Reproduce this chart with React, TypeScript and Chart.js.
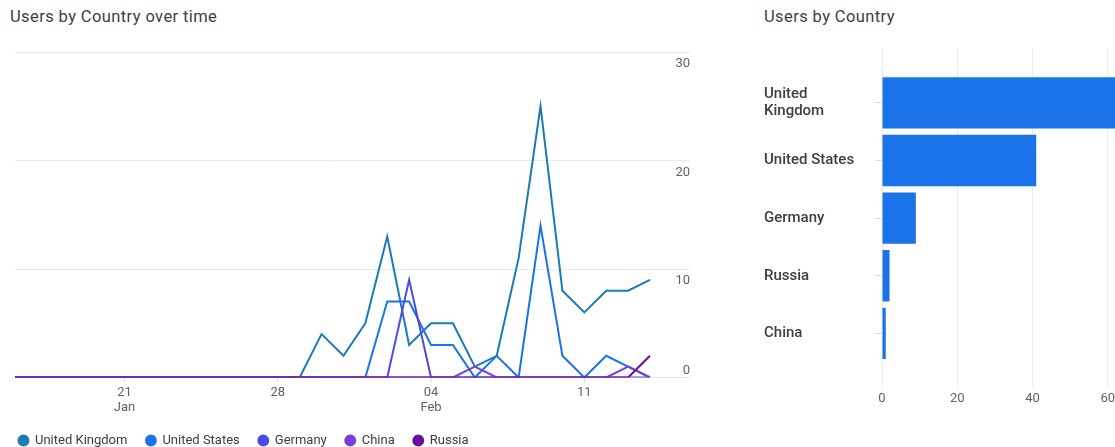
import React, { useEffect, useRef } from 'react';
import { Chart, registerables } from 'chart.js';

Chart.register(...registerables);
Chart.defaults.font.family = 'Roboto, "Noto Sans", sans-serif';

// ---- Line chart data (users per day) ----
const days = [
  '16 Jan', '17 Jan', '18 Jan', '19 Jan', '20 Jan', '21 Jan', '22 Jan', '23 Jan',
  '24 Jan', '25 Jan', '26 Jan', '27 Jan', '28 Jan', '29 Jan', '30 Jan', '31 Jan',
  '01 Feb', '02 Feb', '03 Feb', '04 Feb', '05 Feb', '06 Feb', '07 Feb', '08 Feb',
  '09 Feb', '10 Feb', '11 Feb', '12 Feb', '13 Feb', '14 Feb',
];
const tickDays = ['21 Jan', '28 Jan', '04 Feb', '11 Feb'];
const tickLabels = [['21', 'Jan'], ['28'], ['04', 'Feb'], ['11']];

const seriesNames = ['United Kingdom', 'United States', 'Germany', 'China', 'Russia'];
const ukUsers = [0, 0, 0, 0, 0, 0, 0, 0, 0, 0, 0, 0, 0, 0, 4, 2, 5, 13, 3, 5, 5, 1, 2, 11, 25, 8, 6, 8, 8, 9];
const usUsers = [0, 0, 0, 0, 0, 0, 0, 0, 0, 0, 0, 0, 0, 0, 0, 0, 0, 7, 7, 3, 3, 0, 2, 0, 14, 2, 0, 2, 1, 0];
const germanyUsers = [0, 0, 0, 0, 0, 0, 0, 0, 0, 0, 0, 0, 0, 0, 0, 0, 0, 0, 9, 0, 0, 0, 0, 0, 0, 0, 0, 0, 0, 0];
const chinaUsers = [0, 0, 0, 0, 0, 0, 0, 0, 0, 0, 0, 0, 0, 0, 0, 0, 0, 0, 0, 0, 0, 1, 0, 0, 0, 0, 0, 0, 1, 0];
const russiaUsers = [0, 0, 0, 0, 0, 0, 0, 0, 0, 0, 0, 0, 0, 0, 0, 0, 0, 0, 0, 0, 0, 0, 0, 0, 0, 0, 0, 0, 0, 2];
const seriesValues = [ukUsers, usUsers, germanyUsers, chinaUsers, russiaUsers];
const seriesColors = ['#1a7bb5', '#1a73e8', '#4b4ae8', '#7a3fd6', '#6b0d9c'];

// ---- Bar chart data (total users) ----
const barCountries = ['United Kingdom', 'United States', 'Germany', 'Russia', 'China'];
const barTickLabels = [['United', 'Kingdom'], ['United States'], ['Germany'], ['Russia'], ['China']];
const barUsers = [65, 41, 9, 2, 1];

const AXIS_GREY = '#5f6368';
const TEXT_DARK = '#3c4043';
const GRID = '#e8eaed';

const yLabelPlugin = {
  id: 'yLabelsBelow',
  afterDraw(chart: any) {
    const s = chart.scales.y;
    const ctx = chart.ctx;
    ctx.save();
    ctx.font = '13px Roboto';
    ctx.fillStyle = AXIS_GREY;
    ctx.textAlign = 'right';
    ctx.textBaseline = 'alphabetic';
    s.ticks.forEach((t: any) => {
      const py = s.getPixelForValue(t.value);
      const y = t.value === 0 ? py - 4 : py + 15;
      ctx.fillText(String(t.value), s.right, y);
    });
    ctx.restore();
  },
};

export default function App() {
  const lineRef = useRef<HTMLCanvasElement>(null);
  const barRef = useRef<HTMLCanvasElement>(null);

  useEffect(() => {
    const lineChart = new Chart(lineRef.current as HTMLCanvasElement, {
      type: 'line',
      data: {
        labels: days,
        datasets: seriesNames.map((name, i) => ({
          label: name,
          data: seriesValues[i],
          borderColor: seriesColors[i],
          backgroundColor: seriesColors[i],
          borderWidth: 2,
          pointRadius: 0,
          pointHoverRadius: 0,
          pointStyle: 'circle',
          tension: 0,
          order: seriesNames.length - i,
        })),
      },
      options: {
        animation: false,
        responsive: false,
        layout: { padding: { left: 0, right: 10, top: 12, bottom: 0 } },
        scales: {
          x: {
            type: 'category',
            grid: { drawOnChartArea: false, drawTicks: true, tickLength: 5, tickColor: '#dadce0' },
            border: { display: false },
            afterBuildTicks: (s: any) => {
              s.ticks = s.ticks.filter((t: any) => tickDays.includes(days[t.value]));
            },
            afterFit: (s: any) => {
              s.height = 38;
            },
            ticks: {
              autoSkip: false,
              maxRotation: 0,
              minRotation: 0,
              align: 'center',
              padding: 2,
              color: AXIS_GREY,
              font: { size: 13 },
              callback: (v: any) => {
                const j = tickDays.indexOf(days[v]);
                return j >= 0 ? tickLabels[j] : '';
              },
            },
          },
          y: {
            position: 'right',
            min: 0,
            max: 30,
            ticks: { stepSize: 10, display: false },
            grid: { color: GRID, tickLength: 40, tickColor: GRID },
            border: { display: false },
          },
          yPad: {
            type: 'linear',
            position: 'left',
            display: true,
            grid: { display: false },
            ticks: { display: false },
            border: { display: false },
            afterFit: (s: any) => {
              s.width = 15;
            },
          },
        },
        plugins: {
          legend: {
            position: 'bottom',
            align: 'start',
            labels: {
              usePointStyle: true,
              pointStyle: 'circle',
              boxWidth: 10,
              boxHeight: 7,
              padding: 18.5,
              color: TEXT_DARK,
              font: { size: 13 },
              sort: (a: any, b: any) => a.datasetIndex - b.datasetIndex,
            },
          },
          tooltip: { enabled: false },
        },
      } as any,
      plugins: [yLabelPlugin],
    });

    const barChart = new Chart(barRef.current as HTMLCanvasElement, {
      type: 'bar',
      data: {
        datasets: [
          {
            label: 'Users',
            data: barCountries.map((_, i) => ({ x: barUsers[i], y: i })),
            backgroundColor: '#1a73e8',
            borderWidth: 0,
            categoryPercentage: 1,
            barPercentage: 0.89,
          },
        ],
      },
      options: {
        indexAxis: 'y',
        animation: false,
        responsive: false,
        layout: { padding: { left: 10, right: 41, top: 10, bottom: 40 } },
        scales: {
          x: {
            type: 'linear',
            min: 0,
            max: 80,
            ticks: { stepSize: 20, color: AXIS_GREY, font: { size: 13 }, padding: 4 },
            grid: { color: GRID, drawTicks: false },
            border: { display: false },
            afterFit: (s: any) => {
              s.height = 20;
            },
          },
          y: {
            type: 'linear',
            reverse: true,
            bounds: 'data',
            offset: false,
            min: -0.958,
            max: 4.93,
            afterBuildTicks: (s: any) => {
              s.ticks = barCountries.map((_, i) => ({ value: i }));
            },
            ticks: {
              autoSkip: false,
              crossAlign: 'far',
              color: TEXT_DARK,
              font: { size: 15, weight: '500', lineHeight: 1.15 },
              callback: (v: any) => barTickLabels[Math.round(v)] ?? '',
            },
            grid: {
              offset: false,
              drawOnChartArea: false,
              drawTicks: true,
              tickLength: 7,
              tickColor: '#dadce0',
            },
            border: { display: false },
            afterFit: (s: any) => {
              s.width = 118;
            },
          },
        },
        plugins: { legend: { display: false }, tooltip: { enabled: false } },
      } as any,
    });

    return () => {
      lineChart.destroy();
      barChart.destroy();
    };
  }, []);

  const titleStyle: React.CSSProperties = {
    position: 'absolute',
    top: 7,
    fontSize: 16.5,
    letterSpacing: '0.4px',
    lineHeight: '20px',
    color: TEXT_DARK,
    fontFamily: 'Roboto, sans-serif',
    whiteSpace: 'nowrap',
  };

  return (
    <div
      style={{
        position: 'fixed',
        left: 0,
        top: 0,
        width: 1115,
        height: 447,
        overflow: 'hidden',
        background: '#ffffff',
      }}
    >
      <div style={{ ...titleStyle, left: 10 }}>Users by Country over time</div>
      <div style={{ ...titleStyle, left: 764 }}>Users by Country</div>
      <canvas
        ref={lineRef}
        width={700}
        height={417}
        style={{ position: 'absolute', left: 0, top: 40, width: 700, height: 417 }}
      />
      <canvas
        ref={barRef}
        width={470}
        height={411}
        style={{ position: 'absolute', left: 754, top: 36, width: 470, height: 411 }}
      />
    </div>
  );
}
